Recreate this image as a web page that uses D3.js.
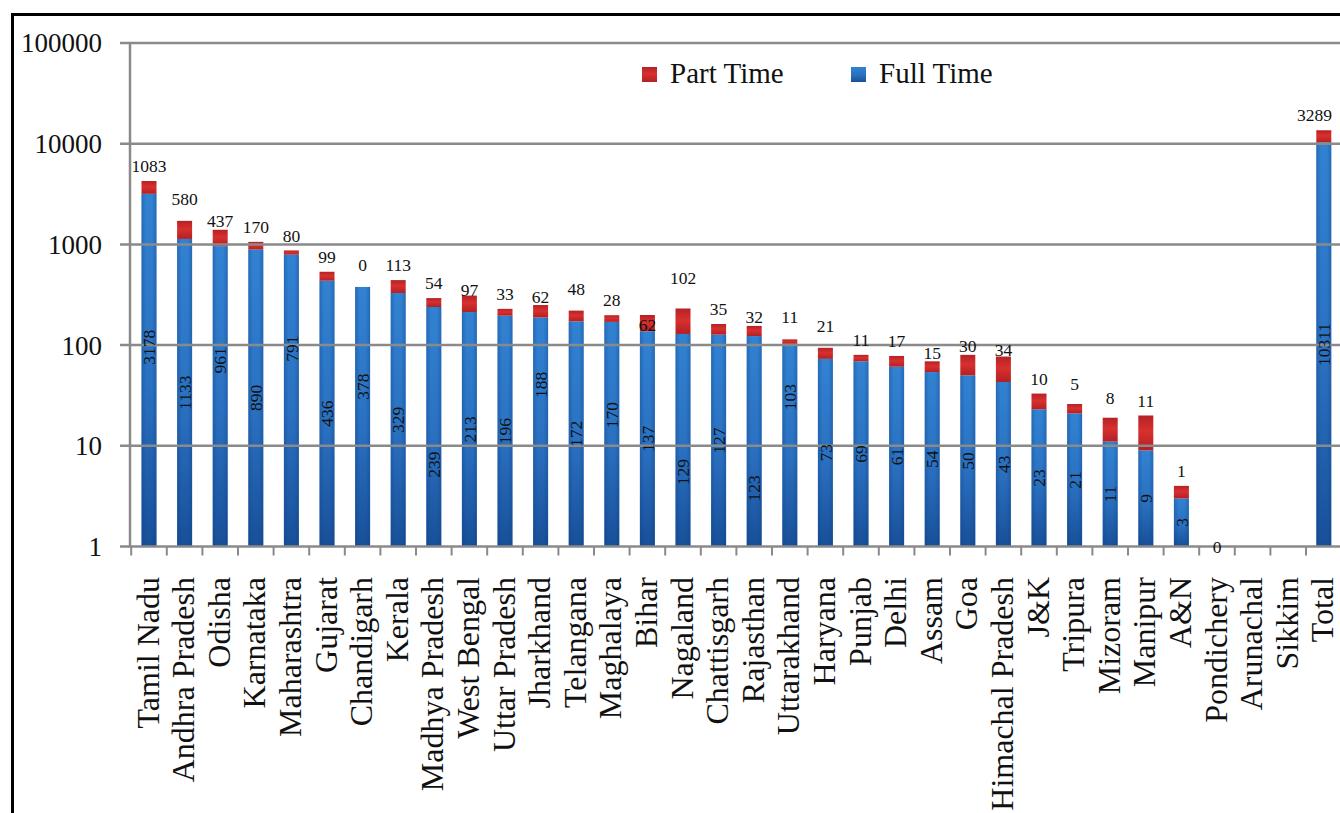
<!DOCTYPE html>
<html>
<head>
<meta charset="utf-8">
<script src="https://cdnjs.cloudflare.com/ajax/libs/d3/7.8.5/d3.min.js"></script>
<style>
  html, body { margin: 0; padding: 0; background: #fff; }
  svg { display: block; }
  text { font-family: "Liberation Serif", "Times New Roman", serif; fill: #111; }
</style>
</head>
<body>
<svg id="chart" width="1340" height="813"></svg>
<script>
// ---- data ----
const categories = ["Tamil Nadu","Andhra Pradesh","Odisha","Karnataka","Maharashtra","Gujarat","Chandigarh","Kerala","Madhya Pradesh","West Bengal","Uttar Pradesh","Jharkhand","Telangana","Maghalaya","Bihar","Nagaland","Chattisgarh","Rajasthan","Uttarakhand","Haryana","Punjab","Delhi","Assam","Goa","Himachal Pradesh","J&K","Tripura","Mizoram","Manipur","A&N","Pondichery","Arunachal","Sikkim","Total"];
const fullTime = [3178,1133,961,890,791,436,378,329,239,213,196,188,172,170,137,129,127,123,103,73,69,61,54,50,43,23,21,11,9,3,0,null,null,10311];
const partTime = [1083,580,437,170,80,99,0,113,54,97,33,62,48,28,62,102,35,32,11,21,11,17,15,30,34,10,5,8,11,1,null,null,null,3289];
const yTickValues = [1,10,100,1000,10000,100000];
const seriesNames = ["Part Time","Full Time"];

// label nudges (px) reproducing hand-placed labels of the original
const fullLabelNudge = {"Tamil Nadu":-23,"Odisha":-36,"Maharashtra":-52,"Chandigarh":-30,"Madhya Pradesh":38,"Jharkhand":-47,"Maghalaya":-19,"Nagaland":32,"Rajasthan":47,"Uttarakhand":-48};
const partLabelNudge = {"Andhra Pradesh":-7,"Odisha":6,"Chandigarh":-7,"West Bengal":9,"Jharkhand":7,"Telangana":-7,"Bihar":25,"Nagaland":-16,"Rajasthan":6,"Uttarakhand":-7,"Haryana":-7,"Assam":7,"Goa":6,"Himachal Pradesh":8,"Tripura":-5,"Mizoram":-5};

const svg = d3.select("#chart");
const defs = svg.append("defs");

const gBlue = defs.append("linearGradient").attr("id","gBlue").attr("x1",0).attr("y1",0).attr("x2",0).attr("y2",1);
gBlue.append("stop").attr("offset","0%").attr("stop-color","#3282d2");
gBlue.append("stop").attr("offset","55%").attr("stop-color","#2a70c0");
gBlue.append("stop").attr("offset","100%").attr("stop-color","#184f98");
const gBlueH = defs.append("linearGradient").attr("id","gBlueH").attr("x1",0).attr("y1",0).attr("x2",1).attr("y2",0);
gBlueH.append("stop").attr("offset","0%").attr("stop-color","#0b3f86").attr("stop-opacity",0.35);
gBlueH.append("stop").attr("offset","30%").attr("stop-color","#0b3f86").attr("stop-opacity",0);
gBlueH.append("stop").attr("offset","70%").attr("stop-color","#0b3f86").attr("stop-opacity",0);
gBlueH.append("stop").attr("offset","100%").attr("stop-color","#0b3f86").attr("stop-opacity",0.35);
const gRed = defs.append("linearGradient").attr("id","gRed").attr("x1",0).attr("y1",0).attr("x2",0).attr("y2",1);
gRed.append("stop").attr("offset","0%").attr("stop-color","#b42226");
gRed.append("stop").attr("offset","45%").attr("stop-color","#d8302e");
gRed.append("stop").attr("offset","100%").attr("stop-color","#b32024");

// frame
svg.append("rect").attr("x",12.5).attr("y",14.5).attr("width",1400).attr("height",900)
  .attr("fill","none").attr("stroke","#000").attr("stroke-width",3);

// scales
const x = d3.scaleBand().domain(categories).range([131.2, 1341.6]).paddingInner(0).paddingOuter(0);
const y = d3.scaleLog().domain([1,100000]).range([546.5, 43]);
const barW = 15;
const cx = c => x(c) + x.bandwidth()/2;

const rows = categories.map((c,i) => ({c, full: fullTime[i], part: partTime[i]}));

// bars
const gBars = svg.append("g");
rows.forEach(r => {
  if (r.full != null && r.full >= 1) {
    gBars.append("rect").attr("x", cx(r.c)-barW/2).attr("y", y(r.full))
      .attr("width", barW).attr("height", y(1)-y(r.full)).attr("fill","url(#gBlue)");
    gBars.append("rect").attr("x", cx(r.c)-barW/2).attr("y", y(r.full))
      .attr("width", barW).attr("height", y(1)-y(r.full)).attr("fill","url(#gBlueH)");
  }
  if (r.part != null && r.part > 0) {
    const base = Math.max(r.full || 0, 1);
    const top = (r.full || 0) + r.part;
    gBars.append("rect").attr("x", cx(r.c)-barW/2).attr("y", y(top))
      .attr("width", barW).attr("height", y(base)-y(top)).attr("fill","url(#gRed)");
  }
});

// gridlines (drawn over bars as in original)
const grid = svg.append("g");
grid.selectAll("line").data(yTickValues).join("line")
  .attr("x1",120).attr("x2",1340).attr("y1",d=>y(d)).attr("y2",d=>y(d))
  .attr("stroke","#8a8a8a").attr("stroke-width",2.5);

// y axis line
svg.append("line").attr("x1",130).attr("x2",130).attr("y1",y(100000)).attr("y2",y(1)+1)
  .attr("stroke","#8a8a8a").attr("stroke-width",2.5);

// x axis ticks at band boundaries
const bounds = categories.map(c => x(c)).concat([x.range()[1]]);
svg.append("g").selectAll("line").data(bounds).join("line")
  .attr("x1",d=>d).attr("x2",d=>d).attr("y1",y(1)).attr("y2",y(1)+9)
  .attr("stroke","#8a8a8a").attr("stroke-width",2);

// y tick labels
svg.append("g").selectAll("text").data(yTickValues).join("text")
  .attr("x",102).attr("y",d=>y(d)).attr("dy","0.35em").attr("text-anchor","end")
  .style("font-size","27px").text(d=>d3.format("d")(d));

// x labels
svg.append("g").selectAll("text").data(categories).join("text")
  .attr("transform", c => `translate(${cx(c)},577) rotate(-90)`)
  .attr("text-anchor","end").attr("dy","0.3em")
  .style("font-size","32px").text(c=>c);

// full-time labels (rotated, centred in blue segment)
const gLab = svg.append("g");
rows.forEach(r => {
  if (r.full == null) return;
  if (r.full < 1) {
    gLab.append("text").attr("x", cx(r.c)).attr("y", y(1)).attr("dy","0.35em")
      .attr("text-anchor","middle").style("font-size","17.5px").text(r.full);
    return;
  }
  const yc = (y(1) + y(r.full))/2 + (fullLabelNudge[r.c] || 0);
  gLab.append("text").attr("transform", `translate(${cx(r.c)},${yc}) rotate(-90)`)
    .attr("text-anchor","middle").attr("dy","0.35em").style("font-size","17.5px").text(r.full);
});
// part-time labels (above stack), kept inside the chart area
rows.forEach(r => {
  if (r.part == null) return;
  const top = (r.full || 0) + r.part;
  const yc = y(top) - 15 + (partLabelNudge[r.c] || 0);
  const t = gLab.append("text").attr("x", cx(r.c)).attr("y", yc).attr("dy","0.35em")
    .attr("text-anchor","middle").style("font-size","17.5px").text(r.part);
  const w = t.node().getComputedTextLength();
  if (cx(r.c) + w/2 > 1332) t.attr("x", 1332 - w/2);
});

// legend
const legend = svg.append("g");
const legItems = [{name: seriesNames[0], fill: "url(#gRed)", x: 642}, {name: seriesNames[1], fill: "url(#gBlue)", x: 851}];
legItems.forEach(it => {
  legend.append("rect").attr("x", it.x).attr("y", 67).attr("width",15).attr("height",15).attr("fill", it.fill);
  legend.append("text").attr("x", it.x+28).attr("y", 83).style("font-size","29px").text(it.name);
});
</script>
</body>
</html>
